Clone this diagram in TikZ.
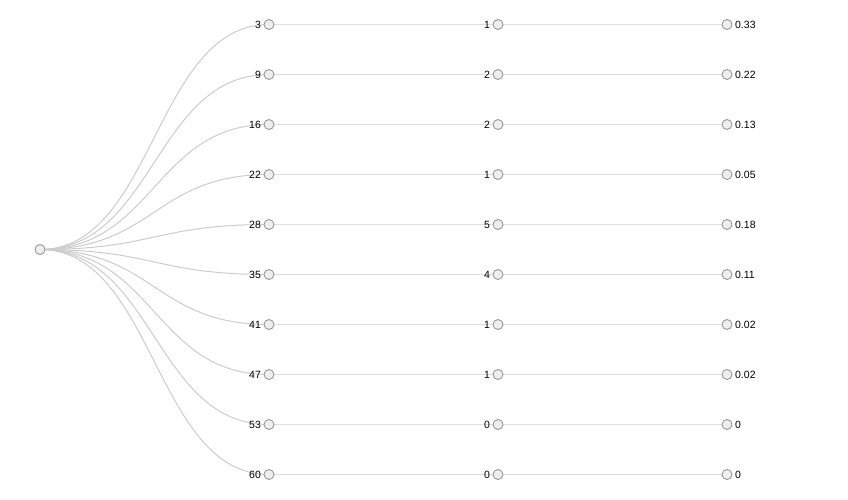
\documentclass[tikz,border=0pt]{standalone}
\usepackage{fontspec}
\setmainfont{Liberation Sans}
\usetikzlibrary{positioning,backgrounds}
\definecolor{linkgray}{RGB}{204,204,204}
\definecolor{barlink}{RGB}{222,222,222}
\definecolor{dotfill}{RGB}{238,238,238}
\definecolor{dotdraw}{RGB}{153,153,153}

\begin{document}
\begin{tikzpicture}[
    x=1pt, y=-1pt,
    dot/.style={circle, draw=dotdraw, fill=dotfill, line width=0.9pt, minimum size=10pt, inner sep=0pt},
    link/.style={draw=linkgray, line width=1pt},
    flat/.style={draw=barlink, line width=1.5pt},
    lbl/.style={font=\fontsize{10.5}{12}\selectfont, inner sep=0pt}
]
    \useasboundingbox (0,0) rectangle (848,500);

    % Root
    \node[dot] (root) at (40,249.5) {};

    % Three columns with their labels
    \foreach \i/\va/\vb/\vc in {1/3/1/0.33, 2/9/2/0.22, 3/16/2/0.13, 4/22/1/0.05, 5/28/5/0.18,
                                6/35/4/0.11, 7/41/1/0.02, 8/47/1/0.02, 9/53/0/0, 10/60/0/0} {
        \node[dot] (a\i) at (269,{24.5+50*(\i-1)}) {};
        \node[dot] (b\i) at (498,{24.5+50*(\i-1)}) {};
        \node[dot] (c\i) at (727,{24.5+50*(\i-1)}) {};
        \node[lbl, left=2.5pt of a\i] (la\i) {\va};
        \node[lbl, left=2.5pt of b\i] (lb\i) {\vb};
        \node[lbl, right=2.5pt of c\i] (lc\i) {\vc};

        % Edges
        \begin{scope}[on background layer]
            \draw[link] (root.center) .. controls +(114.5,0) and +(-114.5,0) .. (a\i.center);
            \draw[flat] (a\i.center) -- (b\i.center);
            \draw[flat] (b\i.center) -- (c\i.center);
        \end{scope}
    }
\end{tikzpicture}
\end{document}
